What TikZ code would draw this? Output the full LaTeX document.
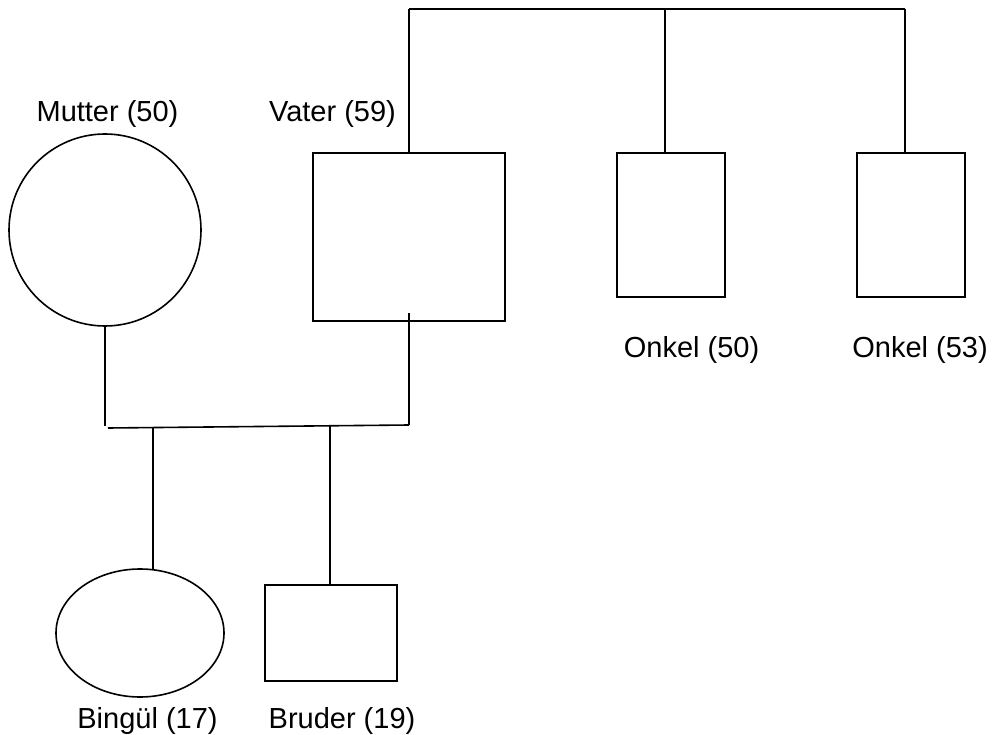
\documentclass[tikz,border=0pt]{standalone}
\usepackage{fontspec}
\setmainfont{Liberation Sans}
\usetikzlibrary{shapes.geometric}
\begin{document}
\begin{tikzpicture}[x=1pt,y=-1pt,line width=1.6pt,
  person/.style={draw,inner sep=0pt,outer sep=0pt},
  male/.style={person,rectangle},
  female/.style={person,ellipse},
  lbl/.style={anchor=base,inner sep=0pt,font=\fontsize{29}{33}\selectfont}]
\useasboundingbox (0,0) rectangle (993,735);
% persons
\node[female,minimum width=192pt,minimum height=192pt] (mutter) at (105,230) {};
\node[male,minimum width=192pt,minimum height=168pt] (vater) at (409,237) {};
\node[male,minimum width=108pt,minimum height=144pt] (onkelA) at (671,225) {};
\node[male,minimum width=108pt,minimum height=144pt] (onkelB) at (911,225) {};
\node[female,minimum width=168pt,minimum height=128pt] (bingul) at (140,633) {};
\node[male,minimum width=132pt,minimum height=96pt] (bruder) at (331,633) {};
% labels
\node[lbl] (lm) at (107.5,122) {Mutter (50)};
\node[lbl] (lv) at (332.5,122) {Vater (59)};
\node[lbl] (lo1) at (691.5,357) {Onkel (50)};
\node[lbl] (lo2) at (920,357) {Onkel (53)};
\node[lbl] (lb) at (147.5,728) {Bingül (17)};
\node[lbl] (lr) at (342,728) {Bruder (19)};
% grandparents line
\coordinate (tl) at (409,9);
\coordinate (tm) at (665,9);
\coordinate (tr) at (905,9);
\draw (tl) -- (tr);
\draw (tl) -- (vater.north);
\draw (tm) -- (tm |- onkelA.north);
\draw (tr) -- (tr |- onkelB.north);
% parents line
\coordinate (mj) at (105,426);
\coordinate (hl) at (108,428);
\coordinate (hr) at (409,425);
\coordinate (vs) at (409,313);
\coordinate (c1) at (153,427.5);
\coordinate (c2) at (330,426);
\coordinate (b1) at (153,569.5);
\draw (mutter.south) -- (mj);
\draw (hl) -- (hr);
\draw (vs) -- (hr);
\draw (c1) -- (b1);
\draw (c2) -- (c2 |- bruder.north);
\end{tikzpicture}
\end{document}
